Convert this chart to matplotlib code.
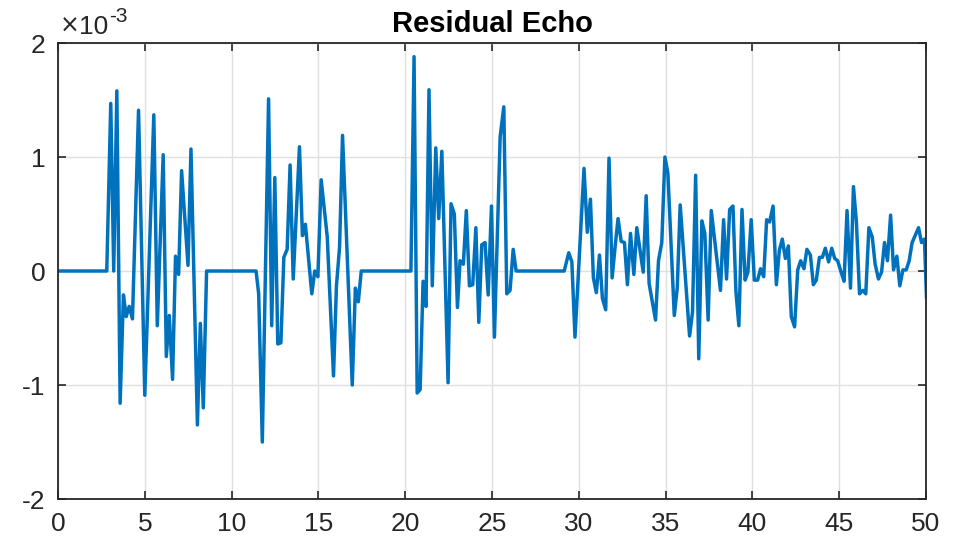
import numpy as np
import matplotlib
matplotlib.use('Agg')
import matplotlib.pyplot as plt

plt.rcParams['font.family'] = ['Liberation Sans', 'DejaVu Sans']
plt.rcParams['axes.unicode_minus'] = False

# residual echo vertices, y in units of 1e-3
t = [0, 2.81, 3.04, 3.21, 3.39, 3.58, 3.77, 3.93, 4.10, 4.29, 4.64, 5.00, 5.52, 5.72, 6.06,
     6.24, 6.41, 6.60, 6.77, 6.95, 7.12, 7.49, 7.66, 8.03, 8.20, 8.37, 8.56,
     11.41, 11.56, 11.77, 12.13, 12.31, 12.49, 12.66, 12.84, 13.01, 13.20, 13.37, 13.55,
     13.91, 14.08, 14.25, 14.62, 14.79, 14.97, 15.16, 15.51, 15.87, 16.04, 16.22, 16.39,
     16.95, 17.13, 17.30, 17.47,
     20.33, 20.51, 20.69, 20.86, 21.03, 21.20, 21.37, 21.56, 21.76, 21.93, 22.11, 22.47,
     22.64, 22.83, 23.01, 23.16, 23.35, 23.52, 23.70, 23.89, 24.07, 24.24, 24.41, 24.60,
     24.78, 24.97, 25.14, 25.47, 25.68, 25.85, 26.04, 26.22, 26.39,
     29.16, 29.42, 29.60, 29.78, 30.30, 30.49, 30.67, 30.84, 31.01, 31.19, 31.36, 31.55,
     31.74, 31.92, 32.09, 32.26, 32.44, 32.63, 32.80, 32.98, 33.17, 33.34, 33.71, 33.88,
     34.05, 34.42, 34.59, 34.78, 34.96, 35.13, 35.50, 35.67, 35.84, 36.38, 36.55, 36.73,
     36.91, 37.09, 37.26, 37.45, 37.63, 38.16, 38.34, 38.51, 38.69, 38.88, 39.05, 39.22,
     39.40, 39.58, 39.74, 39.93, 40.11, 40.30, 40.47, 40.65, 40.82, 40.99, 41.19, 41.38,
     41.55, 41.72, 41.90, 42.07, 42.24, 42.43, 42.61, 42.78, 42.97, 43.14, 43.34, 43.51,
     43.68, 43.86, 44.03, 44.20, 44.39, 44.57, 44.74, 44.91, 45.11, 45.28, 45.45, 45.65,
     45.82, 45.99, 46.17, 46.36, 46.53, 46.71, 46.90, 47.07, 47.26, 47.44, 47.61, 47.78,
     47.96, 48.13, 48.32, 48.49, 48.67, 48.86, 49.03, 49.20, 49.57, 49.74, 49.91, 50.03, 50.2]
echo = [0, 0, 1.47, 0, 1.58, -1.16, -0.21, -0.40, -0.31, -0.42, 1.41, -1.09, 1.37, -0.48, 1.02,
        -0.75, -0.39, -0.95, 0.13, -0.03, 0.88, 0.05, 1.07, -1.35, -0.46, -1.20, 0,
        0, -0.20, -1.50, 1.51, -0.48, 0.82, -0.64, -0.63, 0.12, 0.19, 0.93, -0.07,
        1.09, 0.31, 0.41, -0.20, 0, -0.05, 0.80, 0.30, -0.92, -0.13, 0.21, 1.19,
        -1.00, -0.15, -0.27, 0,
        0, 1.88, -1.07, -1.04, -0.09, -0.31, 1.59, -0.13, 1.08, 0.46, 1.05, -0.98,
        0.59, 0.50, -0.32, 0.09, 0.06, 0.53, -0.13, -0.12, 0.38, -0.45, 0.23, 0.25,
        -0.21, 0.57, -0.58, 1.18, 1.44, -0.20, -0.17, 0.19, 0,
        0, 0.16, 0.08, -0.58, 0.90, 0.34, 0.63, -0.06, -0.19, 0.14, -0.24, -0.34,
        0.99, -0.06, 0.21, 0.46, 0.26, 0.25, -0.12, 0.33, -0.03, 0.38, -0.01, 0.66,
        -0.11, -0.43, 0.09, 0.25, 1.00, 0.86, -0.39, -0.15, 0.58, -0.57, -0.36, 0.84,
        -0.77, 0.44, 0.33, -0.43, 0.53, -0.17, 0.45, -0.07, 0.54, 0.57, -0.18, -0.48,
        0.54, -0.08, -0.01, 0.45, -0.08, -0.08, 0.02, -0.05, 0.45, 0.43, 0.57, -0.12,
        0.18, 0.28, 0.11, 0.22, -0.40, -0.49, 0.01, 0.09, 0.02, 0.19, 0.14, -0.12,
        -0.08, 0.12, 0.12, 0.20, 0.08, 0.20, 0.11, 0.09, -0.01, -0.09, 0.53, -0.15,
        0.74, 0.43, -0.20, -0.17, -0.20, 0.38, 0.30, 0.06, -0.07, -0.01, 0.25, 0.09,
        0.49, 0.01, 0.13, -0.13, 0.01, 0.01, 0.09, 0.25, 0.38, 0.25, 0.28, -0.24, -0.10]

yticks = [-2, -1, 0, 1, 2]
ytick_labels = ['-2', '-1', '0', '1', '2']

fig = plt.figure(figsize=(9.6, 5.41), dpi=100)
ax = fig.add_axes([0.0604, 0.0776, 0.9042, 0.8429])

ax.plot(t, echo, color='#0072BD', linewidth=2.5, solid_joinstyle='round')

ax.set_xlim(0, 50)
ax.set_ylim(-2, 2)
ax.set_xticks(np.arange(0, 51, 5))
ax.set_yticks(yticks)
ax.set_yticklabels(ytick_labels)

ax.grid(True, color='#e0e0e0', linewidth=1)
ax.set_axisbelow(True)
ax.tick_params(direction='in', length=6, width=1.2, labelsize=19, top=True, right=True,
               colors='#262626')
ax.tick_params(axis='x', pad=9)
ax.tick_params(axis='y', pad=9)
for s in ax.spines.values():
    s.set_color('#262626')
    s.set_linewidth(1.3)

ax.set_title('Residual Echo', fontsize=21, fontweight='bold', pad=8)

# MATLAB style exponent label
fig.text(60 / 960, 1 - 33 / 541, '\u00d7', fontsize=17, color='#262626', ha='left', va='baseline',
         family='DejaVu Sans')
fig.text(79 / 960, 1 - 34 / 541, '10', fontsize=19, color='#262626', ha='left', va='baseline')
fig.text(109 / 960, 1 - 22 / 541, '-3', fontsize=15, color='#262626', ha='left', va='baseline')

fig.savefig('out.png', dpi=100)
